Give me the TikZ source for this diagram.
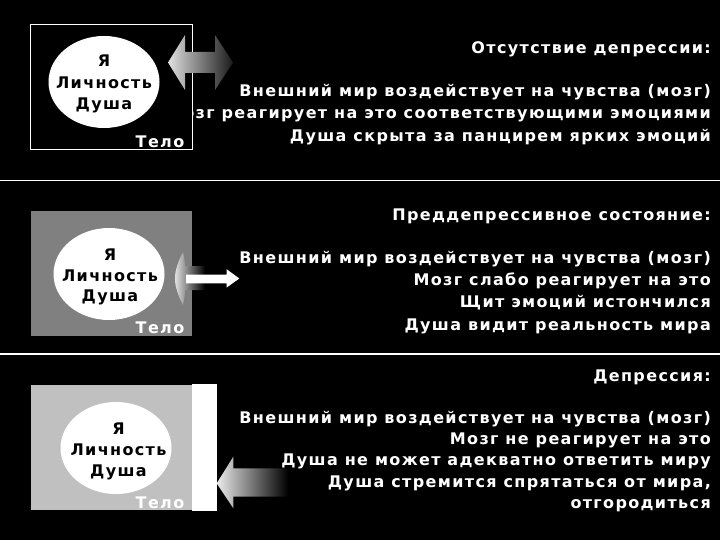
\documentclass[tikz,border=0pt]{standalone}
\usepackage{fontspec}
\setmainfont{DejaVu Sans}
\newfontfamily\widefont[LetterSpace=8.5]{DejaVu Sans}
\usetikzlibrary{shapes.geometric}
\definecolor{midpanel}{HTML}{808080}
\definecolor{lightpanel}{HTML}{C0C0C0}
\definecolor{arrowlight}{HTML}{E0E0E0}
\definecolor{arrowdark}{HTML}{1A1A1A}
\begin{document}
\begin{tikzpicture}[x=1pt,y=-1pt,
  txt/.style={text=white, font=\widefont\fontsize{16}{19}\selectfont\bfseries, inner sep=0pt, anchor=base east},
  soul/.style={text=black, font=\widefont\fontsize{16}{19}\selectfont\bfseries, inner sep=0pt, anchor=base},
  body/.style={text=white, font=\widefont\fontsize{16}{19}\selectfont\bfseries, inner sep=0pt, anchor=base east},
  oval/.style={ellipse, fill=white, draw=none, inner sep=0pt, minimum width=111pt, minimum height=92pt},
  divider/.style={white, line width=1.2pt}]
\useasboundingbox (0,0) rectangle (720,540);
\fill[black] (0,0) rectangle (720,540);
% dividers
\coordinate (d1a) at (0,180.5); \coordinate (d1b) at (720,180.5);
\coordinate (d2a) at (0,354); \coordinate (d2b) at (720,354);
\draw[divider] (d1a) -- (d1b);
\draw[divider] (d2a) -- (d2b);

% ---------- panel 1 ----------
\node[txt] (h1) at (711,54) {Отсутствие депрессии:};
\node[txt] (a1) at (711,96.7) {Внешний мир воздействует на чувства (мозг)};
\node[txt] (a2) at (711,119) {Мозг реагирует на это соответствующими эмоциями};
\node[txt] (a3) at (711,141.3) {Душа скрыта за панцирем ярких эмоций};
\draw[white, fill=black, line width=1pt] (30.7,24.3) rectangle (192.3,150);
\node[oval] (e1) at (104,82) {};
\node[soul] (e1a) at (104,67) {Я};
\node[soul] (e1b) at (104,89) {Личность};
\node[soul] (e1c) at (104,110) {Душа};
\node[body] (b1) at (184.5,147.5) {Тело};
\shade[left color=arrowlight, right color=arrowdark]
  (168,62.5) -- (185,35) -- (185,52) -- (215,52) -- (215,35) -- (233,62.5)
  -- (215,90) -- (215,73) -- (185,73) -- (185,90) -- cycle;

% ---------- panel 2 ----------
\node[txt] (h2) at (711,221) {Преддепрессивное состояние:};
\node[txt] (p1) at (711,263.3) {Внешний мир воздействует на чувства (мозг)};
\node[txt] (p2) at (711,285.5) {Мозг слабо реагирует на это};
\node[txt] (p3) at (711,307.8) {Щит эмоций истончился };
\node[txt] (p4) at (711,330) {Душа видит реальность мира};
\fill[midpanel] (30.7,211) rectangle (192.3,336);
\node[oval] (e2) at (109,274) {};
\node[soul] (e2a) at (110,260) {Я};
\node[soul] (e2b) at (110,281) {Личность};
\node[soul] (e2c) at (110,301.7) {Душа};
\node[body] (b2) at (184.5,333.5) {Тело};
\shade[left color=arrowlight, right color=black]
  (183,252) .. controls (178,262) and (175,270) .. (175,278.5)
  .. controls (175,287) and (178,295) .. (183,305)
  .. controls (184,300) and (185,295) .. (185,290) -- (205,290) -- (205,266) -- (185,266)
  .. controls (185,262) and (184,257) .. (183,252) -- cycle;
\fill[white] (186,274.5) -- (226.7,274.5) -- (226.7,269.3) -- (239.3,278.5)
  -- (226.7,287.5) -- (226.7,283.3) -- (186,283.3) -- cycle;

% ---------- panel 3 ----------
\node[txt] (h3) at (711,381) {Депрессия:};
\node[txt] (q1) at (711,423) {Внешний мир воздействует на чувства (мозг)};
\node[txt] (q2) at (711,444.4) {Мозг не реагирует на это};
\node[txt] (q3) at (711,465.8) {Душа не может адекватно ответить миру};
\node[txt] (q4) at (711,487.2) {Душа стремится спрятаться от мира, };
\node[txt] (q5) at (711,508.6) {отгородиться};
\fill[lightpanel] (30.7,385) rectangle (192.3,510);
\fill[white] (192.3,384.3) rectangle (216.7,510.7);
\node[oval] (e3) at (116,448) {};
\node[soul] (e3a) at (118.5,434) {Я};
\node[soul] (e3b) at (118.5,455) {Личность};
\node[soul] (e3c) at (118.5,476.7) {Душа};
\node[body] (b3) at (184.5,508.5) {Тело};
\shade[left color=white!92!black, right color=black]
  (216.7,483.3) -- (233.3,456.7) -- (233.3,468.3) -- (288.3,468.3)
  -- (288.3,496.7) -- (233.3,496.7) -- (233.3,508.3) -- cycle;
\end{tikzpicture}
\end{document}
